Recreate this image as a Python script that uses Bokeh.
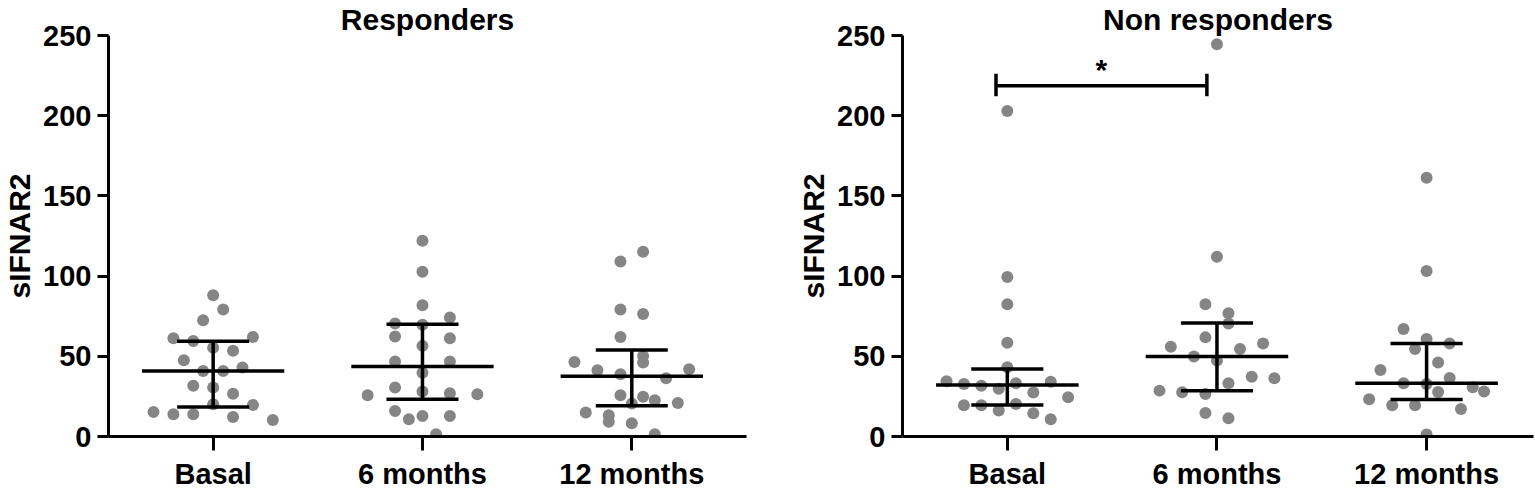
from bokeh.plotting import figure
from bokeh.layouts import row
from bokeh.models import FixedTicker, Label, ColumnDataSource
from bokeh.embed import file_html
from bokeh.resources import INLINE

# ---------------- data ----------------
categories = ["Basal", "6 months", "12 months"]
y_ticks = [0, 50, 100, 150, 200, 250]
y_label = "sIFNAR2"
titles = ["Responders", "Non responders"]

# Responders
resp_basal = [88.1, 79.2, 72.5, 61.3, 59.6, 62.1, 55.4, 53.4, 47.6, 40.9, 40.9, 43.0,
              31.7, 30.5, 26.7, 20.1, 19.7, 15.3, 13.9, 13.9, 12.2, 10.3]
resp_basal_jit = [0, 0.048, -0.048, -0.19, -0.095, 0.19, 0, 0.095, -0.14, -0.048, 0.048, 0.14,
                  -0.095, 0, 0.095, 0, 0.19, -0.285, -0.19, -0.095, 0.095, 0.285]
resp_6m = [122.0, 102.7, 81.9, 70.4, 69.6, 74.2, 62.3, 61.3, 56.5, 46.7, 46.7, 39.8,
           30.5, 28.0, 25.7, 27.0, 26.3, 15.9, 10.7, 12.8, 12.8, 1.4]
resp_6m_jit = [0, 0, 0, -0.131, 0, 0.131, -0.131, 0.131, 0, -0.131, 0.131, 0,
               -0.131, 0, -0.262, 0.131, 0.262, -0.131, -0.065, 0, 0.131, 0.065]
resp_12m = [115.2, 109.1, 79.2, 76.3, 62.1, 50.2, 46.1, 46.5, 41.3, 41.9, 38.8, 36.3,
            25.7, 24.8, 22.6, 20.5, 20.9, 14.9, 13.2, 9.2, 8.2, 1.4]
resp_12m_jit = [0.054, -0.054, -0.054, 0.054, -0.054, 0.054, 0.054, -0.274, -0.164, 0.274, -0.054, 0.164,
                -0.054, 0.054, 0.11, 0, 0.22, -0.22, -0.11, -0.11, 0, 0.11]
resp_center = [40.9, 43.6, 37.6]
resp_upper = [59.4, 70.0, 54.0]
resp_lower = [18.4, 23.2, 19.2]

# Non responders
non_basal = [203.0, 99.5, 82.5, 58.5, 43.1, 34.4, 32.8, 31.7, 33.2, 34.2, 29.7, 27.4,
             24.4, 19.5, 19.5, 20.3, 16.2, 14.5, 10.8]
non_basal_jit = [0, 0, 0, 0, 0, -0.29, -0.207, -0.124, 0.041, 0.207, -0.041, 0.124,
                 0.29, -0.207, -0.124, 0.041, -0.041, 0.124, 0.207]
non_6m = [244.6, 112.0, 82.5, 76.9, 70.5, 61.8, 56.0, 58.0, 54.5, 49.9, 47.3, 37.3,
          36.3, 33.2, 28.6, 27.6, 26.5, 14.7, 11.4]
non_6m_jit = [0, 0, -0.055, 0.055, 0.055, -0.055, -0.22, 0.22, 0.11, -0.11, 0, 0.166,
              0.274, 0.055, -0.274, -0.166, -0.055, -0.055, 0.055]
non_12m = [161.3, 103.2, 67.0, 60.8, 58.0, 54.5, 46.2, 41.5, 36.5, 33.2, 32.8, 30.7,
           28.0, 27.8, 23.2, 19.5, 19.5, 17.2, 1.2]
non_12m_jit = [0, 0, -0.11, 0, 0.11, -0.055, 0.055, -0.22, 0.11, -0.11, 0, 0.22,
               0.274, 0.055, -0.274, -0.164, -0.055, 0.164, 0]
non_center = [32.1, 49.8, 33.2]
non_upper = [42.1, 70.7, 58.0]
non_lower = [19.7, 28.6, 23.0]

# significance: Basal vs 6 months (non responders)
sig_pair = [0, 1]
sig_level = 218.6
sig_text = "*"

# ---------------- style ----------------
FONT = "Liberation Sans"
GRAY = "#858585"
LW = 3.5


def make_panel(title, groups, jits, center, upper, lower, width, border_left,
               border_right, x_end, sig=None):
    p = figure(width=width, height=492, x_range=(-0.5, x_end), y_range=(0, 250),
               output_backend="svg", toolbar_location=None,
               min_border_left=border_left, min_border_right=border_right,
               min_border_top=34, min_border_bottom=56)
    p.outline_line_color = None
    p.xgrid.visible = False
    p.ygrid.visible = False
    p.background_fill_color = "white"

    # title
    p.title.text = title
    p.title.align = "center"
    p.title.text_font = FONT
    p.title.text_font_size = "30px"
    p.title.text_font_style = "bold"
    p.title.text_color = "black"
    p.title.standoff = 0
    p.title.offset = 0

    # x axis
    p.xaxis.ticker = FixedTicker(ticks=[0, 1, 2])
    p.xaxis.major_label_overrides = {i: c for i, c in enumerate(categories)}
    p.xaxis.major_label_text_font = FONT
    p.xaxis.major_label_text_font_size = "29px"
    p.xaxis.major_label_text_font_style = "bold"
    p.xaxis.major_label_text_color = "black"
    p.xaxis.major_label_standoff = 7
    p.xaxis.major_tick_out = 14
    p.xaxis.major_tick_in = 0

    # y axis
    p.yaxis.ticker = FixedTicker(ticks=y_ticks)
    p.yaxis.major_tick_out = 11
    p.yaxis.major_tick_in = 0
    p.yaxis.major_label_standoff = 6
    p.yaxis.major_label_text_font = FONT
    p.yaxis.major_label_text_font_size = "29px"
    p.yaxis.major_label_text_font_style = "bold"
    p.yaxis.major_label_text_color = "black"
    p.yaxis.axis_label = y_label
    p.yaxis.axis_label_standoff = 4
    p.yaxis.axis_label_text_font = FONT
    p.yaxis.axis_label_text_font_size = "30px"
    p.yaxis.axis_label_text_font_style = "bold"
    p.yaxis.axis_label_text_color = "black"
    for ax in (p.xaxis, p.yaxis):
        ax.axis_line_width = 3
        ax.axis_line_color = "black"
        ax.major_tick_line_width = 3
        ax.major_tick_line_color = "black"
        ax.minor_tick_line_color = None

    # dots
    xs, ys = [], []
    for i, (vals, jit) in enumerate(zip(groups, jits)):
        for v, j in zip(vals, jit):
            xs.append(i + j)
            ys.append(v)
    p.scatter(x="x", y="y", source=ColumnDataSource(dict(x=xs, y=ys)),
              size=12, fill_color=GRAY, line_color=None)

    # central line + error bars
    idx = list(range(len(categories)))
    p.segment(x0=[i - 0.34 for i in idx], x1=[i + 0.34 for i in idx], y0=center, y1=center,
              line_color="black", line_width=LW)
    p.segment(x0=[i - 0.172 for i in idx], x1=[i + 0.172 for i in idx], y0=upper, y1=upper,
              line_color="black", line_width=LW)
    p.segment(x0=[i - 0.172 for i in idx], x1=[i + 0.172 for i in idx], y0=lower, y1=lower,
              line_color="black", line_width=LW)
    p.segment(x0=idx, x1=idx, y0=lower, y1=upper, line_color="black", line_width=LW)

    # significance bar
    if sig is not None:
        a, b = sig
        xa, xb = a - 0.054, b - 0.048
        p.segment(x0=[xa], x1=[xb], y0=[sig_level], y1=[sig_level],
                  line_color="black", line_width=LW)
        p.segment(x0=[xa, xb], x1=[xa, xb], y0=[sig_level - 6.5] * 2, y1=[sig_level + 7.5] * 2,
                  line_color="black", line_width=LW)
        p.add_layout(Label(x=(xa + xb) / 2, y=sig_level + 10, text=sig_text,
                           text_align="center", text_baseline="alphabetic",
                           text_font=FONT, text_font_size="30px",
                           text_font_style="bold", text_color="black"))
    return p


p1 = make_panel(titles[0], [resp_basal, resp_6m, resp_12m],
                [resp_basal_jit, resp_6m_jit, resp_12m_jit],
                resp_center, resp_upper, resp_lower,
                width=758, border_left=107, border_right=12, x_end=2.548)
p2 = make_panel(titles[1], [non_basal, non_6m, non_12m],
                [non_basal_jit, non_6m_jit, non_12m_jit],
                non_center, non_upper, non_lower,
                width=777, border_left=144, border_right=2, x_end=2.51,
                sig=sig_pair)

layout = row(p1, p2)
open("out.html", "w").write(file_html(layout, INLINE))
